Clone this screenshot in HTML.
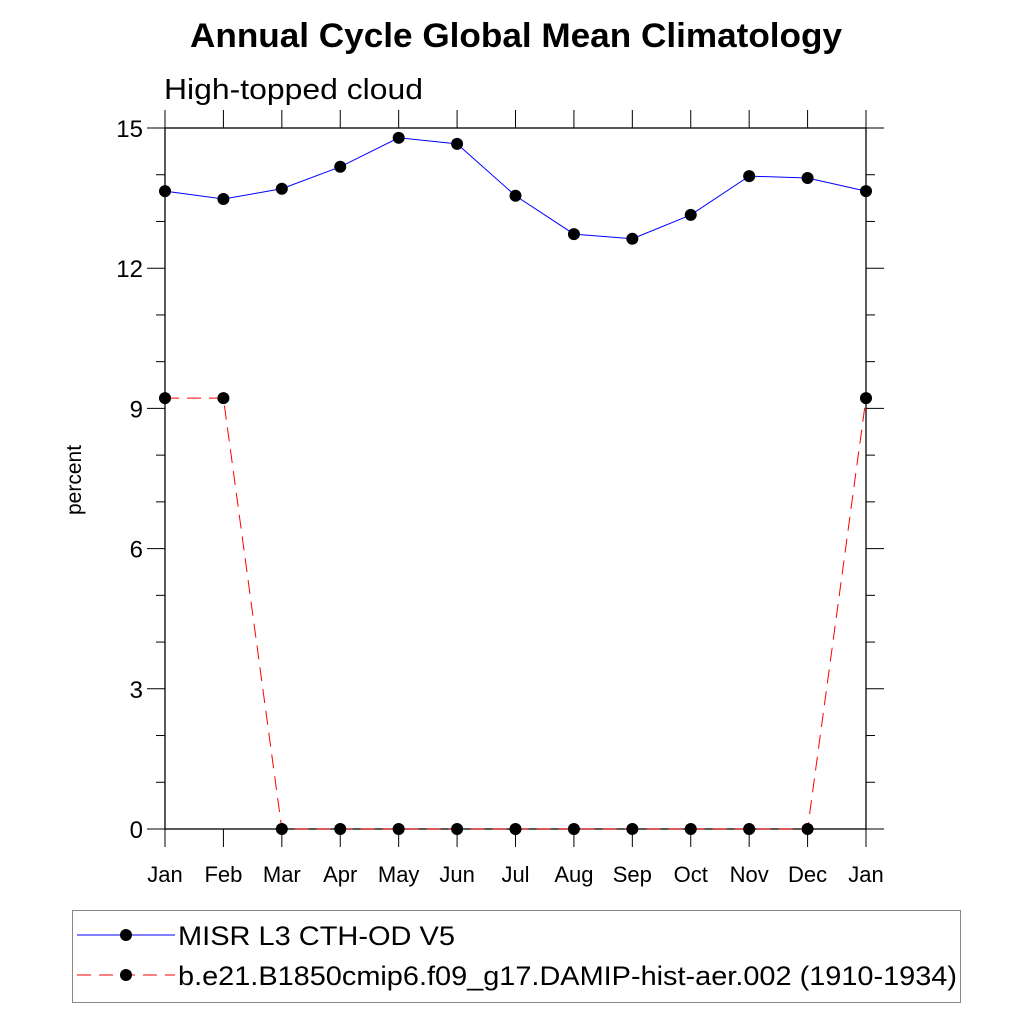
<!DOCTYPE html>
<html><head><meta charset="utf-8"><style>
body{margin:0;background:#fff;font-family:"Liberation Sans",sans-serif}
svg{display:block}
</style></head><body>
<svg width="1024" height="1024" viewBox="0 0 1024 1024" xmlns="http://www.w3.org/2000/svg" font-family="Liberation Sans, sans-serif">
<text x="190" y="47" font-size="34" font-weight="bold" textLength="652" lengthAdjust="spacingAndGlyphs">Annual Cycle Global Mean Climatology</text>
<text x="164" y="99" font-size="29" textLength="259" lengthAdjust="spacingAndGlyphs">High-topped cloud</text>
<text transform="translate(81,480) rotate(-90)" font-size="21" text-anchor="middle">percent</text>
<g id="axes"></g>
<g id="series"></g>
<g>
<rect x="72.5" y="910.5" width="888" height="92" fill="none" stroke="#888" stroke-width="1"/>
<g>
<line x1="77" y1="935" x2="175" y2="935" stroke="#00f" stroke-width="1"/>
<circle cx="126" cy="935" r="6" fill="#000"/>
<text x="178" y="945" font-size="27" textLength="277" lengthAdjust="spacingAndGlyphs">MISR L3 CTH-OD V5</text></g>
<g>
<line x1="77" y1="975" x2="175" y2="975" stroke="#f00" stroke-width="1" stroke-dasharray="14,8"/>
<circle cx="126" cy="975" r="6" fill="#000"/>
<text x="178" y="985" font-size="27" textLength="779" lengthAdjust="spacingAndGlyphs">b.e21.B1850cmip6.f09_g17.DAMIP-hist-aer.002 (1910-1934)</text></g>
</g>
</svg>
<script>
const months=["Jan","Feb","Mar","Apr","May","Jun","Jul","Aug","Sep","Oct","Nov","Dec","Jan"];
const misr=[13.65,13.48,13.70,14.17,14.79,14.66,13.55,12.73,12.63,13.14,13.97,13.93,13.65];
const model=[9.22,9.22,0,0,0,0,0,0,0,0,0,0,9.22];
const yTicks=[0,3,6,9,12,15];
const NS="http://www.w3.org/2000/svg";
const L=165,R=866,T=128,B=829,ymin=0,ymax=15;
const xs=i=>L+i*(R-L)/(months.length-1);
const ys=v=>B-(v-ymin)/(ymax-ymin)*(B-T);
function mk(tag,attrs,parent){const e=document.createElementNS(NS,tag);for(const k in attrs)e.setAttribute(k,attrs[k]);parent.appendChild(e);return e;}
const ax=document.getElementById('axes');
const fr=mk('rect',{x:L,y:T,width:R-L,height:B-T,fill:'none',stroke:'#000','stroke-width':1.3},ax);


for(let v=ymin;v<=ymax;v++){
  const y=ys(v);const major=v%3===0;const len=major?18:9;
  mk('line',{x1:L-len,y1:y,x2:L,y2:y,stroke:'#000','stroke-width':1},ax);
  mk('line',{x1:R,y1:y,x2:R+len,y2:y,stroke:'#000','stroke-width':1},ax);
}
yTicks.forEach(v=>{
  const t=mk('text',{x:L-22,y:ys(v)+9,'font-size':24,'text-anchor':'end'},ax);
  t.textContent=v;
  
  
});
months.forEach((m,i)=>{
  const x=xs(i);
  mk('line',{x1:x,y1:B,x2:x,y2:B+18,stroke:'#000','stroke-width':1},ax);
  mk('line',{x1:x,y1:T-18,x2:x,y2:T,stroke:'#000','stroke-width':1},ax);
  const t=mk('text',{x:x,y:882,'font-size':22,'text-anchor':'middle'},ax);
  t.textContent=m;
  
  
});
const sg=document.getElementById('series');
function series(vals,color,dash,name){
  const g=mk('g',{},sg);
  
  
  const pl=mk('polyline',{points:vals.map((v,i)=>xs(i)+','+ys(v)).join(' '),fill:'none',stroke:color,'stroke-width':1,'stroke-dasharray':dash},g);
  
  
  vals.forEach((v,i)=>{
    const c=mk('circle',{cx:xs(i),cy:ys(v),r:6,fill:'#000'},g);
    
    
  });
}
series(model,'#f00','14,8','model-series');
series(misr,'#00f','none','misr-series');
</script>
</body></html>
